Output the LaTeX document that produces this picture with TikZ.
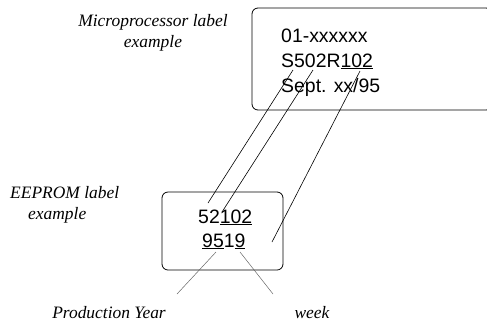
\documentclass[tikz,border=0pt]{standalone}
\usepackage{fontspec}
\setmainfont{Liberation Serif}
\setsansfont{Liberation Sans}
\begin{document}
\begin{tikzpicture}[x=1bp, y=-1bp,
    chip/.style={draw, rounded corners=6bp, line width=0.8bp, inner sep=0pt},
    code/.style={font=\fontsize{19.5}{23}\selectfont\sffamily, inner sep=0pt, anchor=base west},
    caption/.style={font=\fontsize{17.5}{21}\selectfont\itshape, inner sep=0pt},
    wire/.style={line width=0.6bp},
    hint/.style={line width=0.5bp, black!60}]
    \useasboundingbox (0,0) rectangle (487,326);
    % Boxes
    \begin{scope}
        \clip (0,0) rectangle (487,326);
        \node[chip, minimum width=240bp, minimum height=102bp] (mp) at (372,59) {};
    \end{scope}
    \node[chip, minimum width=121bp, minimum height=78bp] (ee) at (222.5,231) {};

    % Texts
    \node[code] (mpA) at (281,42) {01-xxxxxx};
    \node[code] (mpB) at (281,67) {S502R\underline{102}};
    \node[code] (mpC) at (281,92) {Sept. xx/95};
    \node[code] (eeA) at (198,223) {52\underline{102}};
    \node[code] (eeB) at (202,247) {\underline{95}1\underline{9}};

    \node[caption, align=center] (mplabel) at (153,33) {Microprocessor label\\example};
    \node[caption, align=left, anchor=north west] (eelabel) at (10,186) {EEPROM label\\\hspace*{18bp}example};
    \node[caption] (year) at (109,313) {Production Year};
    \node[caption] (week) at (312,313) {week};

    % Connectors
    \coordinate (mp5) at (293,70);
    \coordinate (mp2) at (313,70);
    \coordinate (mp102) at (360,71);
    \coordinate (ee5) at (208,203);
    \coordinate (ee2) at (222,212);
    \coordinate (ee102) at (272,242);
    \coordinate (ee95) at (216,252);
    \coordinate (ee19) at (240,252);
    \coordinate (yearend) at (177,294);
    \coordinate (weekend) at (273,294);

    \draw[wire] (mp5) -- (ee5);
    \draw[wire] (mp2) -- (ee2);
    \draw[wire] (mp102) -- (ee102);
    \draw[hint] (ee95) -- (yearend);
    \draw[hint] (ee19) -- (weekend);
\end{tikzpicture}
\end{document}
